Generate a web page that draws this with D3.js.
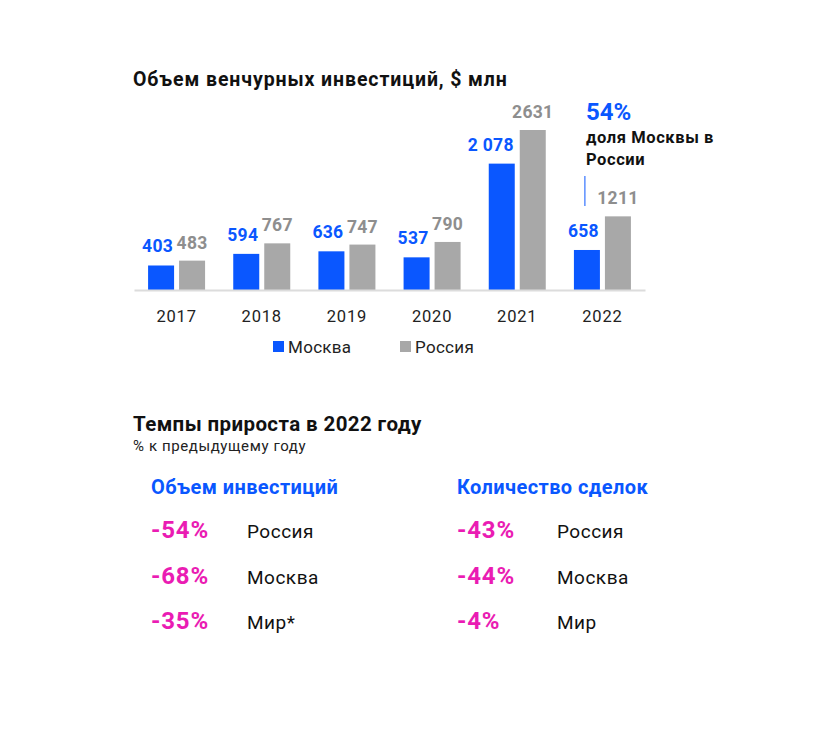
<!DOCTYPE html>
<html>
  <head>
    <meta charset="utf-8">
    <title>Венчурные инвестиции</title>
    <script src="https://cdn.jsdelivr.net/npm/d3@7"></script>
    <style>
      body { margin: 0; background: #fff; }
      text { font-family: Roboto, "Noto Sans", sans-serif; }
    </style>
  </head>
  <body>
    <svg id="chart" width="836" height="734"></svg>
    <script>
      // данные
      var years = ["2017", "2018", "2019", "2020", "2021", "2022"];
      var moscow = [403, 594, 636, 537, 2078, 658];
      var russia = [483, 767, 747, 790, 2631, 1211];
      var moscowLabels = ["403", "594", "636", "537", "2 078", "658"];
      var russiaLabels = ["483", "767", "747", "790", "2631", "1211"];
      var seriesNames = ["Москва", "Россия"];

      var shareValue = "54%";
      var shareText = ["доля Москвы в", "России"];

      var growthGroups = ["Объем инвестиций", "Количество сделок"];
      var growthRows = ["Россия", "Москва", "Мир*"];
      var growthRowsDeals = ["Россия", "Москва", "Мир"];
      var growthVolume = [-54, -68, -35];
      var growthDeals = [-43, -44, -4];

      var blue = "#0a57ff", grey = "#a8a8a8", greyText = "#8e8e8e", pink = "#ea1cb3";

      var svg = d3.select("#chart");

      // заголовок
      svg.append("text").attr("x", 133).attr("y", 86)
        .attr("font-size", 19.5).attr("font-weight", 700).attr("fill", "#111")
        .attr("letter-spacing", 0.9)
        .text("Объем венчурных инвестиций, $ млн");

      var x = d3.scaleBand().domain(years).range([134, 645]);
      var y = d3.scaleLinear().domain([0, 2631]).range([290, 130]);
      var barW = 26, gap = 5;

      var g = svg.append("g");

      years.forEach(function(yr, i) {
        var c = x(yr) + x.bandwidth() / 2;
        var xm = c - gap / 2 - barW, xr = c + gap / 2;
        g.append("rect").attr("x", xm).attr("y", y(moscow[i]))
          .attr("width", barW).attr("height", y(0) - y(moscow[i])).attr("fill", blue);
        g.append("rect").attr("x", xr).attr("y", y(russia[i]))
          .attr("width", barW).attr("height", y(0) - y(russia[i])).attr("fill", grey);
        g.append("text").attr("x", xm + barW - 1).attr("y", y(moscow[i]) - 13)
          .attr("text-anchor", "end").attr("font-size", 17.5).attr("font-weight", 700)
          .attr("letter-spacing", 0.3).attr("fill", blue).text(moscowLabels[i]);
        g.append("text").attr("x", xr + barW / 2).attr("y", y(russia[i]) - 12)
          .attr("text-anchor", "middle").attr("font-size", 17.5).attr("font-weight", 700)
          .attr("letter-spacing", 0.3).attr("fill", greyText).text(russiaLabels[i]);
      });

      // ось X
      var axis = svg.append("g").attr("transform", "translate(0,290)")
        .call(d3.axisBottom(x).tickSize(0).tickPadding(20));
      axis.select(".domain").attr("stroke", "#dcdcdc").attr("stroke-width", 2);
      axis.selectAll("text").attr("font-size", 16.5).attr("fill", "#222")
        .attr("letter-spacing", 0.8).attr("font-family", "Roboto, sans-serif");

      // легенда
      var legend = svg.append("g");
      [273, 400].forEach(function(lx, i) {
        legend.append("rect").attr("x", lx).attr("y", 341).attr("width", 11).attr("height", 11)
          .attr("fill", i === 0 ? blue : grey);
        legend.append("text").attr("x", lx + 15).attr("y", 353)
          .attr("font-size", 17).attr("fill", "#222").attr("letter-spacing", 0.3)
          .text(seriesNames[i]);
      });

      // аннотация 2022
      var c22 = x("2022") + x.bandwidth() / 2;
      var ax = c22 - gap / 2 - barW + 11;
      svg.append("text").attr("x", ax + 1).attr("y", 120)
        .attr("font-size", 24).attr("font-weight", 700).attr("fill", blue).text(shareValue);
      shareText.forEach(function(t, i) {
        svg.append("text").attr("x", ax + 1).attr("y", 143 + i * 22)
          .attr("font-size", 16.5).attr("font-weight", 700).attr("fill", "#111")
          .attr("letter-spacing", 0.6).text(t);
      });
      svg.append("line").attr("x1", ax).attr("x2", ax).attr("y1", 176).attr("y2", 206)
        .attr("stroke", blue).attr("stroke-width", 1);

      // темпы прироста
      svg.append("text").attr("x", 133).attr("y", 431)
        .attr("font-size", 20.5).attr("font-weight", 700).attr("fill", "#111")
        .attr("letter-spacing", 0.4).text("Темпы прироста в 2022 году");
      svg.append("text").attr("x", 133).attr("y", 451)
        .attr("font-size", 15).attr("fill", "#222").attr("letter-spacing", 0.6)
        .text("% к предыдущему году");

      var cols = [
        {x: 151, lx: 247, vals: growthVolume, rows: growthRows},
        {x: 457, lx: 557, vals: growthDeals, rows: growthRowsDeals}
      ];
      var rowY = d3.scalePoint().domain(d3.range(3)).range([538, 629]);

      cols.forEach(function(col, ci) {
        svg.append("text").attr("x", col.x).attr("y", 494)
          .attr("font-size", 20).attr("font-weight", 700).attr("fill", blue)
          .attr("letter-spacing", 0.4).text(growthGroups[ci]);
        col.vals.forEach(function(v, ri) {
          svg.append("text").attr("x", col.x).attr("y", rowY(ri))
            .attr("font-size", 24).attr("font-weight", 700).attr("fill", pink)
            .attr("letter-spacing", 0.8).text(v + "%");
          svg.append("text").attr("x", col.lx).attr("y", rowY(ri))
            .attr("font-size", 19).attr("fill", "#111").attr("letter-spacing", 0.5)
            .text(col.rows[ri]);
        });
      });
    </script>
  </body>
</html>
